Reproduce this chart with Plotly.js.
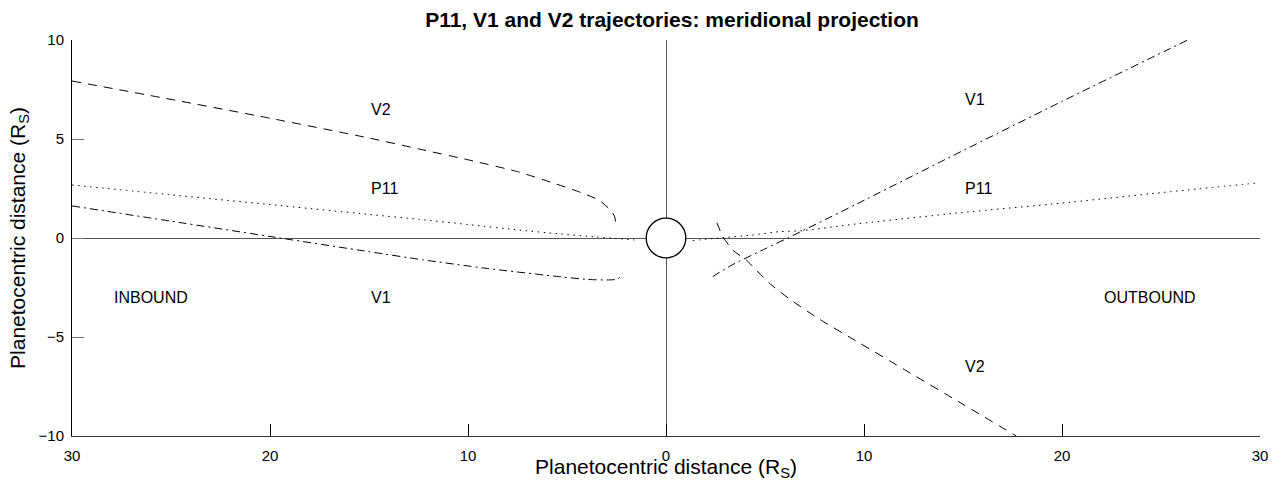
<!DOCTYPE html>
<html>
<head>
<meta charset="utf-8">
<script src="https://cdn.plot.ly/plotly-3.0.1.min.js"></script>
<style>html,body{margin:0;padding:0;background:#fff;}#chart{width:1276px;height:481px;}</style>
</head>
<body>
<div id="chart"></div>
<script>
// Trajectory data (planetocentric distance, R_S); negative x = inbound
const v2InX  = [-30, -25, -20, -15, -12.5, -10, -7.5, -5.7, -4.2, -3.36, -2.85, -2.6, -2.55];
const v2InY  = [7.93, 7.0, 6.05, 5.05, 4.5, 3.95, 3.35, 2.78, 2.26, 1.9, 1.45, 1.1, 0.82];
const v2OutX = [2.57, 2.72, 2.87, 3.37, 4.05, 5.23, 6.24, 7.75, 9.77, 12.13, 15, 17.69];
const v2OutY = [0.77, 0.4, 0.07, -0.61, -1.11, -2.29, -3.08, -4.1, -5.3, -6.7, -8.4, -10];

const v1InX  = [-30, -25, -19.5, -15, -12.3, -9.1, -5.7, -4.0, -3.0, -2.45, -2.31];
const v1InY  = [1.62, 0.85, 0, -0.69, -1.1, -1.53, -1.92, -2.09, -2.12, -2.08, -1.95];
const v1OutX = [2.36, 3.3, 5.06, 6.15, 9.6, 14.23, 20, 26.35];
const v1OutY = [-1.95, -1.38, -0.52, 0, 1.7, 4.03, 6.9, 10];

const p11InX  = [-30, -25, -20, -15, -12.45, -10, -7.4, -5.5, -3.5, -1.6];
const p11InY  = [2.68, 2.18, 1.69, 1.19, 0.94, 0.68, 0.40, 0.22, 0.05, -0.1];
const p11OutX = [1.35, 2.7, 4.37, 5.73, 6.9, 9.6, 15, 19.87, 25, 29.97];
const p11OutY = [-0.13, 0.0, 0.15, 0.32, 0.37, 0.71, 1.29, 1.75, 2.29, 2.79];

const planetRadius = 1;

const xTickVals = [-30, -20, -10, 0, 10, 20, 30];
const xTickText = ['30', '20', '10', '0', '10', '20', '30'];
const yTickVals = [-10, -5, 0, 5, 10];

const labelText = ['V2', 'P11', 'V1', 'INBOUND', 'V1', 'P11', 'OUTBOUND', 'V2'];
const labelX    = [-15, -15, -15, -28, 15, 15, 22, 15];
const labelY    = [6.5, 2.5, -3, -3, 7, 2.5, -3, -6.5];

const FONT = '"Liberation Sans", Arial, Helvetica, sans-serif';
const dashV2 = '9px,7px';
const dashV1 = '8px,4px,2px,4px';
const dashP11 = '1.5px,4.5px';

function tr(x, y, dash) {
  return {x: x, y: y, type: 'scatter', mode: 'lines',
    line: {color: '#000', width: 1, dash: dash, shape: 'spline', smoothing: 0.6},
    hoverinfo: 'skip', showlegend: false, cliponaxis: true};
}

const data = [
  tr(v2InX, v2InY, dashV2), tr(v2OutX, v2OutY, dashV2),
  tr(v1InX, v1InY, dashV1), tr(v1OutX, v1OutY, dashV1),
  tr(p11InX, p11InY, dashP11), tr(p11OutX, p11OutY, dashP11)
];

const annotations = labelText.map((t, i) => ({
  x: labelX[i], y: labelY[i], xref: 'x', yref: 'y', text: t, showarrow: false,
  xanchor: 'left', yanchor: 'middle', font: {family: FONT, size: 16, color: '#000'}
}));

const layout = {
  width: 1276, height: 481,
  margin: {l: 72, r: 16, t: 40, b: 45, pad: 0},
  paper_bgcolor: '#fff', plot_bgcolor: '#fff',
  font: {family: FONT, color: '#000'},
  title: {text: '<b>P11, V1 and V2 trajectories: meridional projection</b>',
    font: {family: FONT, size: 21, color: '#000'},
    x: 672 / 1276, xanchor: 'center', xref: 'container',
    y: 1 - 20 / 481, yanchor: 'middle', yref: 'container'},
  xaxis: {range: [-30, 30], tickvals: xTickVals, ticktext: xTickText,
    ticks: 'inside', ticklen: 12, tickwidth: 1, tickcolor: '#000',
    showline: true, linecolor: '#333', linewidth: 1, mirror: false,
    showgrid: false, zeroline: true, zerolinecolor: '#555', zerolinewidth: 1,
    tickfont: {family: FONT, size: 15, color: '#000'}, ticklabelstandoff: 6,
    title: {text: 'Planetocentric distance (R<sub>S</sub>)', font: {family: FONT, size: 21, color: '#000'}, standoff: 2},
    fixedrange: true},
  yaxis: {range: [-10, 10], tickvals: yTickVals,
    ticks: 'inside', ticklen: 12, tickwidth: 1, tickcolor: '#777',
    showline: true, linecolor: '#000', linewidth: 1, mirror: false,
    showgrid: false, zeroline: true, zerolinecolor: '#555', zerolinewidth: 1,
    tickfont: {family: FONT, size: 15, color: '#000'}, ticklabelstandoff: 4,
    title: {text: 'Planetocentric distance (R<sub>S</sub>)', font: {family: FONT, size: 21, color: '#000'}, standoff: 7},
    fixedrange: true},
  shapes: [{type: 'circle', xref: 'x', yref: 'y',
    x0: -planetRadius, x1: planetRadius, y0: -planetRadius, y1: planetRadius,
    line: {color: '#000', width: 1.3}, fillcolor: '#fff', layer: 'above'}],
  annotations: annotations
};

Plotly.newPlot('chart', data, layout, {displayModeBar: false, staticPlot: true});
</script>
</body>
</html>
